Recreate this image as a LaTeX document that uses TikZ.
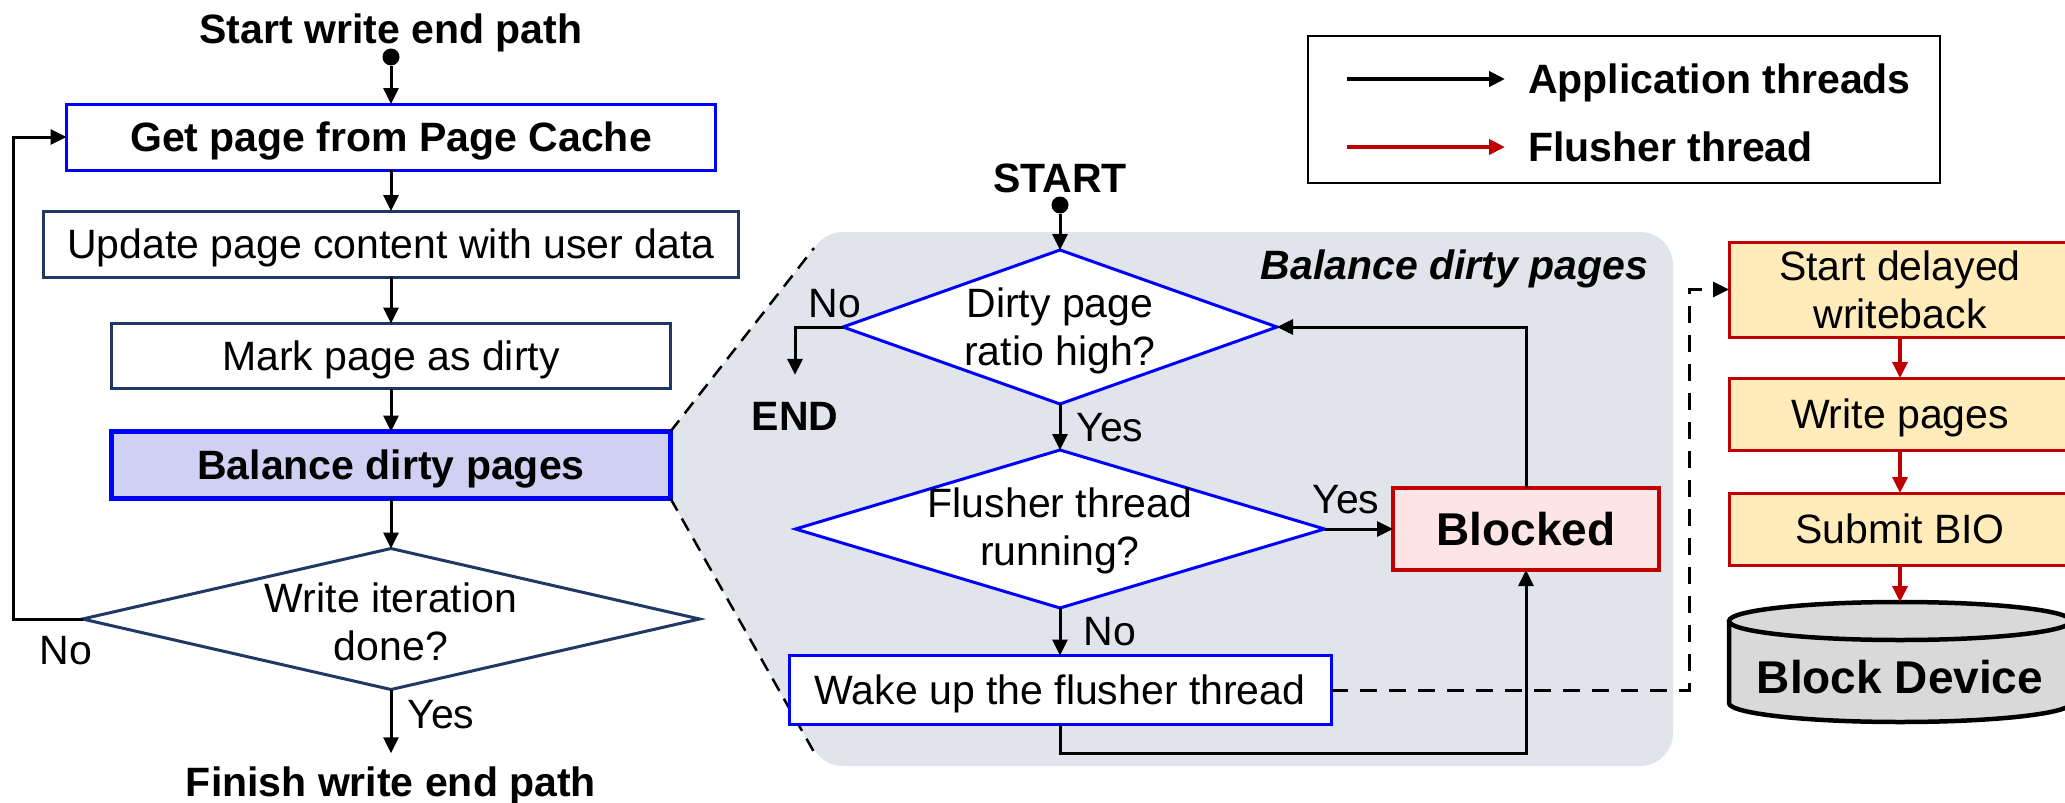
\documentclass[tikz,border=0pt]{standalone}
\usepackage{fontspec}
\setmainfont{Liberation Sans}
\usetikzlibrary{arrows.meta,shapes.geometric,backgrounds}

\definecolor{pureblue}{RGB}{0,0,255}
\definecolor{navy}{RGB}{31,56,100}
\definecolor{lavender}{RGB}{208,208,242}
\definecolor{panelgray}{RGB}{225,229,235}
\definecolor{darkred}{RGB}{192,0,0}
\definecolor{pinkfill}{RGB}{253,228,229}
\definecolor{creamfill}{RGB}{255,236,186}
\definecolor{diskgray}{RGB}{217,217,217}

\tikzset{
  every node/.style={inner sep=0pt, outer sep=0pt},
  lbl/.style={font=\fontsize{41}{48}\selectfont, align=center},
  lblb/.style={font=\fontsize{41}{48}\selectfont\bfseries, align=center},
  lblbig/.style={font=\fontsize{46}{55}\selectfont\bfseries, align=center},
  oneline/.style={text height=29.4pt, text depth=0pt},
  flowbox/.style={lbl, draw, line width=3pt, fill=white},
  decision/.style={diamond, draw, line width=3pt, fill=white},
  wbbox/.style={lbl, draw=darkred, line width=3pt, fill=creamfill, minimum width=342pt},
  startdot/.style={circle, fill=black, minimum size=17pt},
  arr/.style={line width=3pt, -{Triangle[length=16pt,width=15pt]}},
  redarr/.style={arr, draw=darkred, fill=darkred, line width=3.5pt},
  fanline/.style={line width=2.5pt, dash pattern=on 14pt off 9pt},
  dasharr/.style={arr, dash pattern=on 17pt off 12pt},
}

\begin{document}
\begin{tikzpicture}[x=1pt,y=-1pt]
\useasboundingbox (0,0) rectangle (2065,803);
\clip (0,0) rectangle (2065,803);

% ---------- main write path ----------
\node[lblb, oneline] (tstart) at (391,29) {Start write end path};
\node[startdot] (sdot1) at (391,57) {};
\node[flowbox, oneline, draw=pureblue, font=\fontsize{41}{48}\selectfont\bfseries,
      minimum width=649pt, minimum height=66pt] (get) at (391,137) {Get page from Page Cache};
\node[flowbox, oneline, draw=navy, minimum width=695pt, minimum height=66pt] (upd) at (391,244)
      {Update page content with user data};
\node[flowbox, oneline, draw=navy, minimum width=559pt, minimum height=65pt] (mark) at (391,356)
      {Mark page as dirty};
\node[flowbox, oneline, draw=pureblue, line width=5pt, fill=lavender, font=\fontsize{41}{48}\selectfont\bfseries,
      minimum width=559pt, minimum height=67pt] (bal) at (391,465) {Balance dirty pages};
\node[decision, draw=navy, minimum width=617pt, minimum height=141pt] (iter) at (391,619) {};
\node[lbl] (itertxt) at (391,622) {Write iteration\\done?};
\node[lblb, oneline] (tfinish) at (391,782) {Finish write end path};
\coordinate (loopx) at (13,0);

\draw[arr] (sdot1) -- (get.north);
\draw[arr] (get.south) -- (upd.north);
\draw[arr] (upd.south) -- (mark.north);
\draw[arr] (mark.south) -- (bal.north);
\draw[arr] (bal.south) -- (iter.north);
\draw[arr, shorten >=14pt] (iter.south) -- (tfinish.north);
\draw[arr] (iter.west) -- (iter.west -| loopx) |- (get.west);
\node[lbl] (no1) at (66,651) {No};
\node[lbl] (yes1) at (441,715) {Yes};

% ---------- balance dirty pages panel ----------
\coordinate (fantop) at (814,248);
\coordinate (fanbot) at (814,752);
\begin{scope}[on background layer]
  \fill[white] (0,0) rectangle (2065,803);
  \fill[panelgray, rounded corners=33pt] (810,232) rectangle (1673,766);
  \fill[panelgray] (bal.north east) -- (fantop) -- (fanbot) -- (bal.south east) -- cycle;
\end{scope}
\draw[fanline] (bal.north east) -- (fantop);
\draw[fanline] (bal.south east) -- (fanbot);
\node[font=\fontsize{41}{48}\selectfont\bfseries\itshape, anchor=east] (ptitle) at (1648,269)
      {Balance dirty pages};

\node[lblb] (tSTART) at (1060,178) {START};
\node[startdot] (sdot2) at (1060,205) {};
\node[decision, draw=pureblue, minimum width=434pt, minimum height=154pt] (dirty) at (1060,327) {};
\node[lbl] (dirtytxt) at (1060,331) {Dirty page\\ratio high?};
\node[lblb] (tend) at (795,416) {END};
\node[decision, draw=pureblue, minimum width=529pt, minimum height=158pt] (flush) at (1060,529) {};
\node[lbl] (flushtxt) at (1060,531) {Flusher thread\\running?};
\node[lblbig, draw=darkred, line width=4.5pt, fill=pinkfill,
      minimum width=266pt, minimum height=82pt] (blk) at (1526,529) {Blocked};
\node[flowbox, oneline, draw=pureblue, minimum width=542pt, minimum height=69pt] (wake) at (1060,690)
      {Wake up the flusher thread};
\coordinate (wbot) at (1060,753);

\draw[arr] (sdot2) -- (dirty.north);
\draw[arr, shorten >=27pt] (dirty.west) -| (tend.north);
\draw[arr] (dirty.south) -- (flush.north);
\draw[arr] (flush.east) -- (blk.west);
\draw[arr] (blk.north) |- (dirty.east);
\draw[arr] (flush.south) -- (wake.north);
\draw[arr] (wake.south) -- (wbot) -| (blk.south);
\node[lbl] (no2) at (835,304) {No};
\node[lbl] (yes2) at (1110,428) {Yes};
\node[lbl] (yes3) at (1346,500) {Yes};
\node[lbl] (no3) at (1110,632) {No};

% ---------- flusher thread ----------
\node[wbbox, minimum height=95pt] (sdw) at (1900,289.5) {Start delayed\\writeback};
\node[wbbox, oneline, minimum height=72pt] (wp) at (1900,414) {Write pages};
\node[wbbox, oneline, minimum height=72pt] (sbio) at (1900,529) {Submit BIO};
\coordinate (dturn) at (1689,289.5);
\draw[dasharr] (wake.east) -| (dturn) -- (sdw.west);

% block device cylinder
\fill[diskgray] (1729,621) -- (1729,703) arc[start angle=180, end angle=0, x radius=171, y radius=19]
  -- (2071,621) -- cycle;
\draw[line width=4.5pt] (1729,621) -- (1729,703) arc[start angle=180, end angle=0, x radius=171, y radius=19]
  -- (2071,621);
\filldraw[fill=diskgray, line width=4.5pt] (1900,621) ellipse[x radius=171, y radius=19];
\coordinate (disktop) at (1900,602);
\node[lblbig] (disk) at (1900,677) {Block Device};

\draw[redarr] (sdw.south) -- (wp.north);
\draw[redarr] (wp.south) -- (sbio.north);
\draw[redarr] (sbio.south) -- (disktop);

% ---------- legend ----------
\node[draw, line width=2.5pt, minimum width=632pt, minimum height=147pt] (legend) at (1624,109.5) {};
\coordinate (la1) at (1347,79);
\coordinate (la2) at (1505,79);
\coordinate (lb1) at (1347,147);
\coordinate (lb2) at (1505,147);
\draw[arr, line width=4pt] (la1) -- (la2);
\draw[redarr, line width=4pt] (lb1) -- (lb2);
\node[lblb, oneline, anchor=west] (lg1) at (1528,79) {Application threads};
\node[lblb, oneline, anchor=west] (lg2) at (1528,147) {Flusher thread};
\end{tikzpicture}
\end{document}
